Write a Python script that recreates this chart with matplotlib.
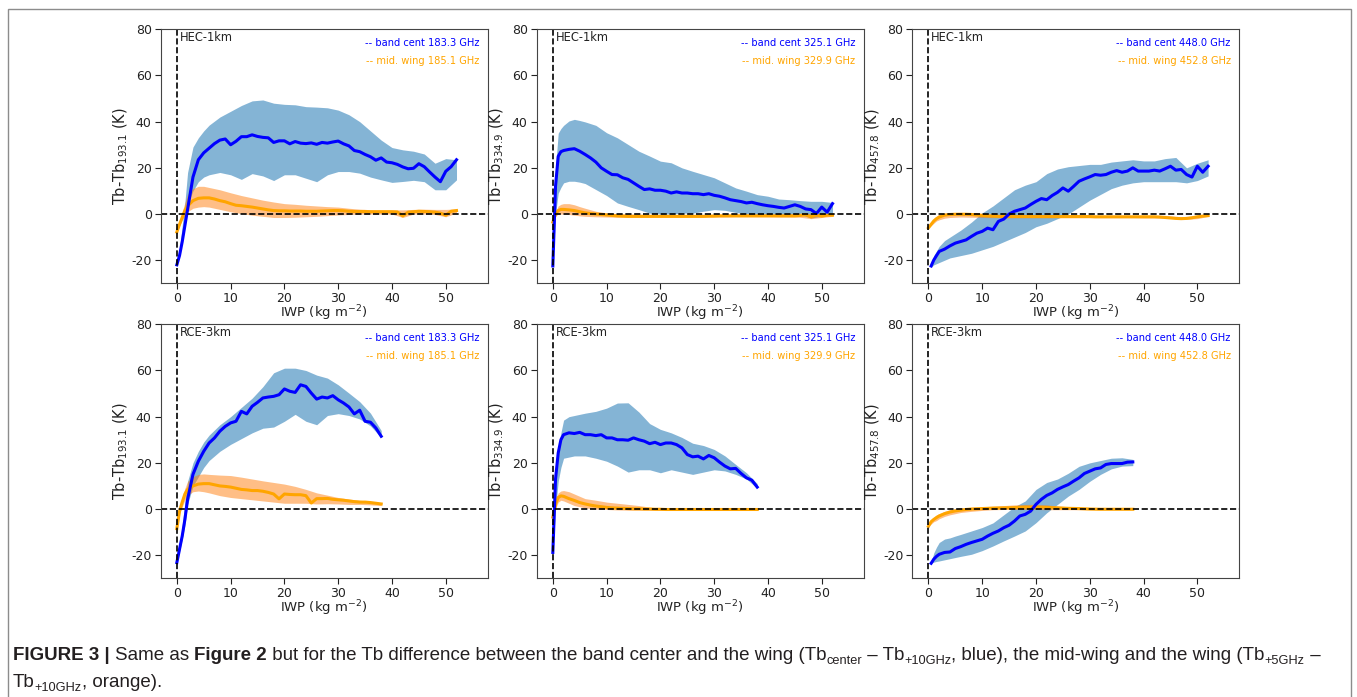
import numpy as np
import matplotlib
matplotlib.use("Agg")
import matplotlib.pyplot as plt
from matplotlib.patches import Rectangle
from matplotlib.font_manager import FontProperties

plt.rcParams['axes.unicode_minus'] = False
plt.rcParams['font.family'] = ['DejaVu Sans']

nan = np.nan

# ---------------- grids (IWP bins, kg m-2) ----------------
x_top = [0, 0.5, 1, 1.5, 2] + list(range(3, 53))
x_top_band = [0, 0.5, 1, 1.5, 2, 3, 4, 5] + list(range(6, 53, 2))
x_bot = [0, 0.5, 1, 1.5, 2] + list(range(3, 39))
x_bot_band = [0, 0.5, 1, 1.5, 2, 3, 4, 5] + list(range(6, 39, 2))

# ---------------- HEC-1km, 183 GHz ----------------
hec183_blue = [-22, -18, -12, -5, 2, 16, 23.5, 26.5, 28.5, 30.5, 32, 32.5, 30, 31.5, 33.5, 33.5, 34.3, 33.6,
               33.2, 33, 31, 31.7, 31.7, 30.4, 31.4, 30.7, 30.5, 30.8, 30.2, 31, 30.7, 31.2, 31.6, 30.4, 29.5,
               27.5, 27, 25.8, 24.8, 23.3, 24.3, 22.5, 22.2, 21.5, 20.4, 19.6, 19.8, 21.8, 20.5, 18.2, 16, 14,
               18.5, 20.5, 23.5]
hec183_orange = [-7.8, -4.5, -1.5, 1.5, 3.5, 5.8, 6.8, 7, 7, 6.5, 5.8, 5.3, 4.5, 3.8, 3.6, 3.3, 3, 2.6, 2.2,
                 1.8, 1.5, 1.4, 1.4, 1.3, 1.3, 1.3, 1.2, 1.2, 1.2, 1.3, 1.4, 1.5, 1.5, 1.4, 1.2, 1.1, 1.1, 1.1,
                 1.0, 1.0, 1.0, 1.0, 1.0, 0.9, -0.8, 0.8, 1.0, 1.2, 1.1, 1.0, 0.8, 0.4, -0.5, 1.2, 1.5]
hec183_blue_lo = [-22, -17, -10, -3, 4, 10, 14, 16, 17, 18, 17, 15, 17.5, 16.5, 14.5, 17, 17, 15.5, 14, 17,
                  18.4, 18.4, 17.7, 16, 14.8, 13.7, 14.1, 14.6, 14, 10.5, 10.5, 14.8]
hec183_blue_hi = [-22, -15, -5, 5, 18, 29, 33, 36, 38.5, 42, 44.5, 47, 49, 49.4, 48, 47.5, 47.3, 46.5, 46.3,
                  46, 45, 43, 40, 36, 32, 28.8, 27.8, 27.2, 26, 22, 24, 23.5]
hec183_orange_lo = [-8, -5, -2.5, -0.5, 1, 2.5, 3, 3.2, 3, 2, 1, 0.2, -0.5, -1, -1.5, -1.5, -1.4, -1.2, -1.0,
                    -0.7, -0.4, -0.2, 0, 0, 0, 0, -1.5, 0, 0, -0.2, -1.2, 0.5]
hec183_orange_hi = [-8, -3.5, 1, 5, 8.5, 11, 12, 12, 11.5, 10.5, 9.2, 8, 7, 6, 5.2, 4.5, 4.2, 3.8, 3.5, 3.2,
                    3, 2.5, 2.1, 1.9, 1.8, 1.8, 1.8, 2, 2.1, 2, 2, 2.2]

# ---------------- HEC-1km, 325 GHz ----------------
hec325_blue = [-22.5, 12, 25, 27, 27.5, 28, 28.3, 27.2, 25.8, 24.3, 22.5, 20, 18.5, 17.1, 17, 15.7, 15, 13.5,
               12, 10.6, 10.9, 10.3, 10.3, 9.9, 9.1, 9.6, 9.1, 9.1, 8.8, 8.8, 8.4, 8.8, 8.1, 7.7, 7, 6.2, 5.8,
               5.4, 4.8, 5.1, 4.5, 4, 3.6, 3.3, 2.9, 2.6, 3.3, 4, 3.3, 2.2, 1.9, 0.2, 3.0, 0.8, 4.5]
hec325_orange = [-3.5, 0, 1.5, 2, 2, 1.8, 1.5, 1.0, 0.5, 0.2, 0, -0.2, -0.4, -0.6, -0.8, -0.9, -1.0, -1.0,
                 -1.0, -1.0, -1.0, -1.0, -1.0, -1.0, -1.0, -1.0, -1.0, -1.0, -1.0, -1.0, -1.0, -0.9, -0.9,
                 -0.8, -0.8, -0.8, -0.8, -0.8, -0.8, -0.8, -0.8, -0.8, -0.8, -0.8, -0.8, -0.8, -0.8, -0.8,
                 -0.6, -0.3, -1.2, -0.4, -0.9, -0.5, -0.5]
hec325_blue_lo = [-22.5, 0, 9, 11.5, 13.5, 14.2, 14.2, 13.8, 13.2, 10.6, 8, 4.8, 3.3, 1.9, 0.4, 0, 0, 0.4,
                  0.4, 1.2, 1.9, 1.6, 0.7, 0, -0.3, -0.7, -0.7, -0.3, -0.3, -1.7, -1, 0.4]
hec325_blue_hi = [-22.5, 20, 35, 37, 38.4, 40.3, 41, 40.5, 39.9, 38.4, 35.2, 33, 30.1, 27.2, 25.1, 22.9, 22.2,
                  20, 18.5, 17.1, 15.7, 13.5, 11.3, 9.9, 8.4, 7.7, 6.5, 6.2, 5.8, 5.5, 5.5, 5]
hec325_orange_lo = [-3.5, -1, 0, 0, 0, -0.2, -0.5, -0.8, -1, -1.2, -1.3, -1.4, -1.5, -1.5, -1.5, -1.5, -1.5,
                    -1.5, -1.4, -1.4, -1.3, -1.3, -1.2, -1.2, -1.2, -1.2, -1.3, -1.3, -1.4, -2, -1.5, -1]
hec325_orange_hi = [-3.5, 1, 3.5, 4.2, 4.5, 4.5, 4, 3.2, 2.5, 1.2, 0.5, 0.2, 0, -0.1, -0.2, -0.2, -0.2, -0.2,
                    -0.2, -0.2, -0.1, -0.1, 0, 0, 0, 0, 0, 0.1, 0.2, 0.2, 0.3, 0]

# ---------------- HEC-1km, 448 GHz ----------------
hec448_blue = [nan, -22.5, -19.9, -18, -16.2, -15.2, -13.8, -12.6, -11.9, -11.2, -9.7, -8.3, -7.5, -6.1, -6.8,
               -3.2, -2.2, 0, 1.2, 1.9, 2.6, 4.1, 5.5, 6.7, 6.2, 8, 9.4, 11.3, 9.9, 12, 14.2, 15.2, 16.1, 17.1,
               16.8, 17.1, 18.1, 18.8, 18.1, 18.6, 20, 18.6, 18.6, 18.6, 19, 18.6, 19.6, 20.7, 19, 19.3, 17.1,
               16, 20.7, 18.1, 20.7]
hec448_orange = [-6, -4.5, -3, -2, -1.3, -0.5, -0.2, -0.1, -0.1, -0.1, -0.2, -0.4, -0.6, -0.8, -0.9, -1.0,
                 -1.1, -1.1, -1.1, -1.1, -1.1, -1.1, -1.1, -1.1, -1.1, -1.1, -1.1, -1.1, -1.1, -1.1, -1.1,
                 -1.1, -1.1, -1.2, -1.2, -1.2, -1.2, -1.2, -1.2, -1.2, -1.2, -1.2, -1.2, -1.2, -1.2, -1.3,
                 -1.5, -1.7, -1.9, -2.0, -1.9, -1.6, -1.2, -0.9, -0.7]
hec448_blue_lo = [nan, -23, -22, -21.5, -21, -20, -19, -18.5, -18, -17, -15.5, -14, -12, -10, -8, -5.5, -4,
                  -2, 0, 3, 6, 8.5, 11, 12.5, 13.5, 14, 14, 14, 14, 13.5, 14.5, 16.5]
hec448_blue_hi = [nan, -22, -18, -16, -14, -11.5, -10, -8.5, -7, -3.5, 0.5, 3.5, 7, 10.5, 12.5, 14, 17.5,
                  19.5, 20.5, 21, 21.5, 21.5, 22.5, 23, 23.5, 23, 23, 24, 24.5, 20, 22, 23.5]
hec448_orange_lo = [-6, -5, -4, -3, -2.5, -1.8, -1.5, -1.4, -1.3, -1.4, -1.5, -1.6, -1.6, -1.6, -1.6, -1.6,
                    -1.6, -1.6, -1.6, -1.6, -1.6, -1.6, -1.6, -1.6, -1.6, -1.7, -1.7, -1.8, -2.0, -2.3, -2,
                    -1]
hec448_orange_hi = [-6, -4, -2, -1, 0, 0.4, 0.5, 0.5, 0.6, 0.6, 0.3, 0, -0.3, -0.5, -0.5, -0.5, -0.5, -0.5,
                    -0.5, -0.5, -0.5, -0.6, -0.6, -0.6, -0.6, -0.6, -0.6, -0.6, -1, -1.3, -1, -0.3]

# ---------------- RCE-3km, 183 GHz ----------------
rce183_blue = [-23.2, -17.4, -11.7, -4.5, 4.2, 15, 20.7, 25, 28.6, 30.8, 33.7, 35.8, 37.3, 38, 42.3, 41.2,
               44.5, 46.2, 48.1, 48.5, 48.8, 49.5, 52, 51, 50.5, 53.8, 53.1, 50.2, 47.6, 48.5, 48.1, 49.1,
               47.3, 45.9, 44.2, 41.2, 42.8, 38, 37.6, 35.1, 31.5]
rce183_orange = [-8.5, -1, 3, 6.5, 8.5, 10, 10.8, 11, 11, 10.5, 10, 9.8, 9.5, 9, 8.5, 8.3, 8, 8, 7.7, 7.2, 6.5,
                 4.4, 6.5, 6.3, 6.2, 6.2, 5.8, 2.6, 4.5, 4.5, 4.6, 4.2, 4, 3.8, 3.5, 3.2, 3, 3, 2.8, 2.5, 2.2]
rce183_blue_lo = [-23, -18.5, -13, -7, 2, 10, 14, 18, 21, 25, 28, 30.5, 33, 35, 35.5, 38, 41, 38, 36.5, 40.5,
                  41.3, 40.5, 39, 36, 31]
rce183_blue_hi = [-23, -16, -7, 3, 12, 20, 25, 29, 32, 36.5, 40, 44, 48, 53, 59, 61, 61, 60, 58, 56.7, 53.8,
                  50.2, 46.5, 41.5, 34]
rce183_orange_lo = [-8.5, -2, 1, 4, 6, 7.5, 7.8, 7.5, 7, 5.8, 5, 4.5, 4, 3.5, 3, 2.5, 2.5, 2.5, 2.2, 2.3,
                    2.2, 2, 2, 1.8, 1.5]
rce183_orange_hi = [-8.5, 0, 5, 9, 12, 14, 15, 15.2, 15, 14.7, 14.5, 13.8, 13, 12.2, 11.5, 10.8, 9.8, 8.5, 7,
                    6, 5, 4.3, 3.8, 3.3, 2.5]

# ---------------- RCE-3km, 325 GHz ----------------
rce325_blue = [-18.8, 13, 24.3, 30, 32.2, 33, 32.7, 33.2, 32.2, 32.2, 31.8, 32.2, 30.8, 30.8, 30, 30, 29.8,
               30.8, 30, 29.4, 28.3, 28.9, 27.9, 28.6, 28.6, 27.9, 26.5, 23.6, 22.6, 22.9, 21.7, 23.2, 22.2,
               20.3, 18.6, 17.4, 17.6, 15.4, 13.5, 12.5, 9.5]
rce325_orange = [-3.5, 2, 5, 5.7, 5.5, 4.5, 3.7, 2.8, 2.2, 1.7, 1.3, 1, 0.7, 0.5, 0.4, 0.3, 0.2, 0.1, 0.1, 0,
                 0, -0.1, -0.1, -0.2, -0.2, -0.2, -0.2, -0.2, -0.2, -0.2, -0.2, -0.2, -0.2, -0.2, -0.2, -0.2,
                 -0.2, -0.2, -0.2, -0.2, -0.2]
rce325_blue_lo = [-18.8, 0, 12, 18, 22, 22.5, 23, 23, 23, 22, 20.7, 18.6, 16, 17, 17, 15.7, 17, 16, 15, 16,
                  17, 16.5, 15, 13, 9]
rce325_blue_hi = [-18.8, 18, 27, 33, 38.5, 40, 40.5, 41, 41.5, 42.3, 43.7, 45.9, 46, 42, 37, 34.5, 33, 31,
                  28.5, 27.5, 25.8, 23, 19.3, 15.7, 11]
rce325_orange_lo = [-3.5, 0, 3, 3.8, 3.5, 2.5, 1.5, 1, 0.5, 0, -0.2, -0.4, -0.5, -0.5, -0.5, -0.6, -0.6, -0.6,
                    -0.6, -0.6, -0.6, -0.6, -0.6, -0.6, -0.6]
rce325_orange_hi = [-3.5, 4, 7, 7.8, 8, 7.5, 6.5, 5.5, 4.5, 3.8, 3, 2.5, 2, 1.5, 0.8, 0.3, 0.1, 0.1, 0.1, 0.1,
                    0.1, 0.1, 0.1, 0.1, 0.1]

# ---------------- RCE-3km, 448 GHz ----------------
rce448_blue = [nan, -23.5, -21.7, -20.5, -19.6, -18.8, -18.6, -17.1, -16.3, -15.3, -14.5, -13.8, -13.1, -11.7,
               -10.5, -9.5, -8.1, -7, -5.2, -3, -2.3, -0.9, 2, 4.2, 5.9, 7, 8.5, 9.6, 10.6, 12.1, 13.5, 15.4,
               16.4, 17.4, 17.8, 19.3, 19.7, 19.7, 19.7, 20.3, 20.4]
rce448_orange = [-7.5, -5.5, -4.5, -3.7, -3, -2, -1.3, -0.8, -0.5, -0.2, 0, 0.1, 0.2, 0.3, 0.4, 0.45, 0.5,
                 0.55, 0.6, 0.7, 0.8, 0.8, 0.8, 0.75, 0.7, 0.6, 0.5, 0.4, 0.3, 0.25, 0.2, 0.1, 0, -0.05, -0.1,
                 -0.1, -0.1, -0.1, -0.1, -0.1, -0.1]
rce448_blue_lo = [nan, -23.5, -23, -22.7, -22.5, -22, -21.5, -21, -20.5, -19.6, -18, -16, -13.8, -11.7, -9.5,
                  -5.9, -1.6, 2, 5.6, 8.5, 12, 15, 17.4, 18.6, 18.8]
rce448_blue_hi = [nan, -23, -19, -16.5, -14.5, -13, -12.5, -11.7, -11, -9.5, -8, -6, -2.5, 1, 3.5, 8.5, 11.5,
                  13, 15.5, 18.5, 20, 21, 22, 22.2, 21.5]
rce448_orange_lo = [-7.5, -6.5, -5.5, -5, -4.2, -3.2, -2.5, -2, -1.5, -1, -0.6, -0.3, -0.2, -0.2, -0.2, -0.2,
                    -0.3, -0.3, -0.3, -0.3, -0.3, -0.3, -0.3, -0.3, -0.3]
rce448_orange_hi = [-7.5, -5, -3.5, -2.5, -2, -1, -0.3, 0, 0.3, 0.7, 1, 1.2, 1.5, 1.8, 2, 2, 1.8, 1.3, 1, 0.6,
                    0.3, 0.1, 0.1, 0.1, 0.1]

# ---------------- labels ----------------
run_names = ['HEC-1km', 'RCE-3km']
ref_freqs = ['193.1', '334.9', '457.8']
center_labels = ['-- band cent 183.3 GHz', '-- band cent 325.1 GHz', '-- band cent 448.0 GHz']
wing_labels = ['-- mid. wing 185.1 GHz', '-- mid. wing 329.9 GHz', '-- mid. wing 452.8 GHz']
x_ticks = [0, 10, 20, 30, 40, 50]
y_ticks = [-20, 0, 20, 40, 60, 80]

panels = [
    [(x_top, x_top_band, hec183_blue, hec183_orange, hec183_blue_lo, hec183_blue_hi, hec183_orange_lo, hec183_orange_hi),
     (x_top, x_top_band, hec325_blue, hec325_orange, hec325_blue_lo, hec325_blue_hi, hec325_orange_lo, hec325_orange_hi),
     (x_top, x_top_band, hec448_blue, hec448_orange, hec448_blue_lo, hec448_blue_hi, hec448_orange_lo, hec448_orange_hi)],
    [(x_bot, x_bot_band, rce183_blue, rce183_orange, rce183_blue_lo, rce183_blue_hi, rce183_orange_lo, rce183_orange_hi),
     (x_bot, x_bot_band, rce325_blue, rce325_orange, rce325_blue_lo, rce325_blue_hi, rce325_orange_lo, rce325_orange_hi),
     (x_bot, x_bot_band, rce448_blue, rce448_orange, rce448_blue_lo, rce448_blue_hi, rce448_orange_lo, rce448_orange_hi)],
]

W, H = 1357, 697
fig = plt.figure(figsize=(W / 100, H / 100), dpi=100)

lefts = [160.7, 536.7, 912.3]
tops = [29.3, 324.3]
ax_w, ax_h = 327.0, 254.0

for r in range(2):
    for c in range(3):
        xl, xb, blue, orange, blo, bhi, olo, ohi = panels[r][c]
        ax = fig.add_axes([lefts[c] / W, 1 - (tops[r] + ax_h) / H, ax_w / W, ax_h / H])
        ax.fill_between(xb, blo, bhi, color='#1f77b4', alpha=0.55, linewidth=0)
        ax.fill_between(xb, olo, ohi, color='#ff7f0e', alpha=0.5, linewidth=0)
        ax.plot(xl, orange, color='orange', lw=2.2)
        ax.plot(xl, blue, color='blue', lw=2.2)
        ax.axhline(0, color='k', ls='--', lw=1.2)
        ax.axvline(0, color='k', ls='--', lw=1.2)
        ax.set_xlim(-3, 57.8)
        ax.set_ylim(-30, 80)
        ax.set_xticks(x_ticks)
        ax.set_yticks(y_ticks)
        ax.tick_params(labelsize=9, length=4, width=0.8, pad=2.5, colors='#222222')
        for s in ax.spines.values():
            s.set_linewidth(0.8)
            s.set_color('#444444')
        ax.set_xlabel('IWP (kg m$^{-2}$)', fontsize=9.5, labelpad=-1.5, color='#222222')
        ax.set_ylabel('Tb-Tb$_{%s}$ (K)' % ref_freqs[c], fontsize=10.5, labelpad=1, color='#222222')
        ax.text(0.5, 75, run_names[r], fontsize=8.3, color='#222222')
        ax.text(0.974, 0.946, center_labels[c], transform=ax.transAxes, ha='right', va='center',
                fontsize=7.1, color='blue')
        ax.text(0.974, 0.874, wing_labels[c], transform=ax.transAxes, ha='right', va='center',
                fontsize=7.1, color='orange')

# outer frame
fig.patches.append(Rectangle((8 / W, -0.01), (1351 - 8) / W, 1 - 9 / H + 0.01, transform=fig.transFigure,
                             fill=False, edgecolor='#8c8c8c', lw=1.0, figure=fig))

# caption, drawn as runs of text
fig.canvas.draw()
renderer = fig.canvas.get_renderer()
cap_size = 13.5
cap_color = '#231f20'


def run_width(s, prop):
    w1, _, _ = renderer.get_text_width_height_descent('|' + s + '|', prop, ismath=False)
    w0, _, _ = renderer.get_text_width_height_descent('||', prop, ismath=False)
    return w1 - w0


def draw_runs(x, y, runs):
    for s, bold, sub in runs:
        size = cap_size * (0.68 if sub else 1.0)
        prop = FontProperties(family='Liberation Sans', size=size, weight='bold' if bold else 'normal')
        dy = -4 if sub else 0
        fig.text(x / W, 1 - (y - dy) / H, s, fontproperties=prop, color=cap_color, va='baseline', ha='left')
        x += run_width(s, prop)


line1 = [('FIGURE 3 | ', True, False), ('Same as ', False, False), ('Figure 2', True, False),
         (' but for the Tb difference between the band center and the wing (Tb', False, False),
         ('center', False, True), (' – Tb', False, False), ('+10GHz', False, True),
         (', blue), the mid-wing and the wing (Tb', False, False), ('+5GHz', False, True), (' –', False, False)]
line2 = [('Tb', False, False), ('+10GHz', False, True), (', orange).', False, False)]
draw_runs(13, 660, line1)
draw_runs(13, 687, line2)

fig.savefig('out.png', dpi=100)
